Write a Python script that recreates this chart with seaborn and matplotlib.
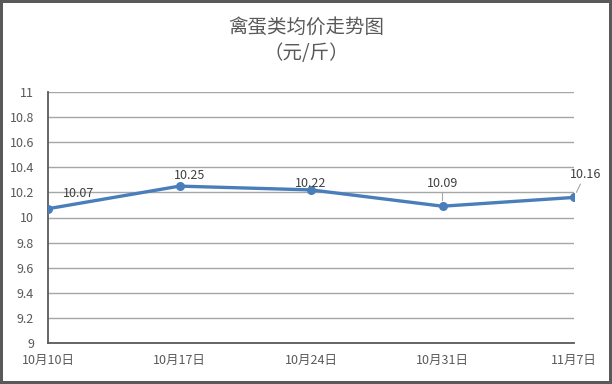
import matplotlib
matplotlib.use("Agg")
import matplotlib.pyplot as plt
import pandas as pd
import seaborn as sns

dates = ["10月10日", "10月17日", "10月24日", "10月31日", "11月7日"]
prices = [10.07, 10.25, 10.22, 10.09, 10.16]
yticks = [9, 9.2, 9.4, 9.6, 9.8, 10, 10.2, 10.4, 10.6, 10.8, 11]

sns.set_style("white")
plt.rcParams["font.family"] = ["Noto Sans CJK SC", "DejaVu Sans"]

df = pd.DataFrame({"date": dates, "price": prices, "pos": range(len(dates))})

fig = plt.figure(figsize=(6.12, 3.84), dpi=100, linewidth=3, edgecolor="#595959")
ax = fig.add_axes([48 / 612, 41 / 384, 526 / 612, 251 / 384])

sns.lineplot(data=df, x="pos", y="price", ax=ax, color="#4a7ebb", linewidth=2.4,
             marker="o", markersize=6.5, markeredgewidth=0, zorder=3)

ax.set_xlim(0, len(dates) - 1)
ax.set_ylim(9, 11)
ax.set_yticks(yticks)
ax.set_yticklabels([f"{v:g}" for v in yticks])
ax.set_xticks(range(len(dates)))
ax.set_xticklabels(dates)
ax.set_xlabel("")
ax.set_ylabel("")

ax.grid(axis="y", color="#a6a6a6", linewidth=1.0)
ax.set_axisbelow(True)
for s in ["top", "right"]:
    ax.spines[s].set_visible(False)
for s in ["left", "bottom"]:
    ax.spines[s].set_color("#595959")
    ax.spines[s].set_linewidth(1.3)
ax.tick_params(axis="x", direction="out", length=5, width=1.3, color="#595959",
               labelsize=9, labelcolor="#595959", pad=3)
ax.tick_params(axis="y", length=0, labelsize=9, labelcolor="#595959", pad=10)

# data labels (offsets in points)
offsets = [(22, 6), (7, 3), (0, 0), (0, 12), (8, 12)]
leader = [False, False, False, True, True]
for i, (v, off, ld) in enumerate(zip(prices, offsets, leader)):
    ax.annotate(f"{v:.2f}", xy=(i, v), xytext=off, textcoords="offset points",
                ha="center", va="bottom", fontsize=9, color="#404040",
                arrowprops=dict(arrowstyle="-", color="#a6a6a6", lw=0.8,
                                shrinkA=0, shrinkB=4) if ld else None)

fig.text(0.5, 1 - 27 / 384, "禽蛋类均价走势图", ha="center", va="center",
         fontsize=14, color="#595959", fontweight="medium")
fig.text(0.5, 1 - 54 / 384, "（元/斤）", ha="center", va="center",
         fontsize=14, color="#595959", fontweight="medium")

fig.savefig("out.png", dpi=100)
